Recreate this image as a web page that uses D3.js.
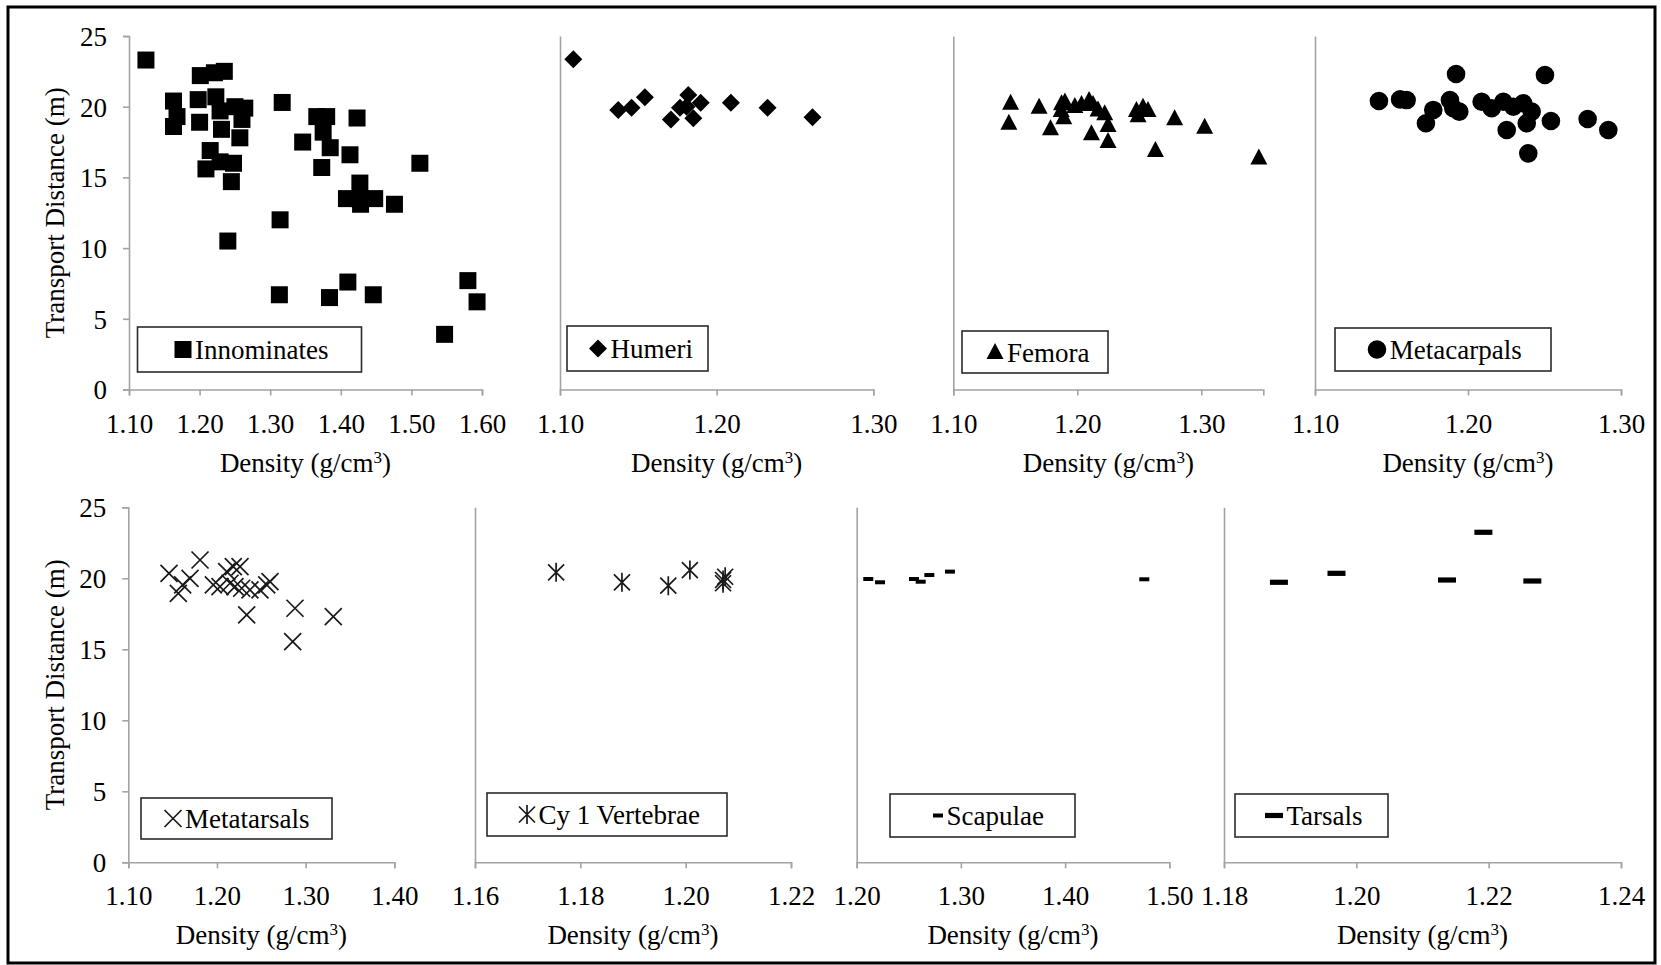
<!DOCTYPE html>
<html>
<head>
<meta charset="utf-8">
<script src="https://cdn.jsdelivr.net/npm/d3@7"></script>
<style>
  html, body { margin: 0; padding: 0; background: #fff; }
  svg { display: block; }
  text { font-family: "Liberation Serif", "Times New Roman", serif; fill: #000; }
</style>
</head>
<body>
<svg id="chart" width="1661" height="965"></svg>
<script>
// ---- Data: density (g/cm3) and transport distance (m) per bone element ----
const innominatesDensity = [1.124, 1.201, 1.221, 1.235, 1.163, 1.168, 1.163, 1.198, 1.200, 1.223, 1.229, 1.231,
  1.250, 1.264, 1.260, 1.257, 1.215, 1.209, 1.229, 1.248, 1.245, 1.240, 1.317, 1.314, 1.313, 1.346, 1.366,
  1.380, 1.375, 1.385, 1.373, 1.384, 1.413, 1.423, 1.427, 1.408, 1.426, 1.428, 1.448, 1.476, 1.410, 1.446,
  1.512, 1.547, 1.580, 1.593];
const innominatesDistance = [23.3, 22.2, 22.4, 22.5, 20.4, 19.3, 18.6, 20.5, 18.9, 20.7, 19.7, 18.4,
  20.0, 19.9, 19.1, 17.8, 16.9, 15.6, 16.1, 16.0, 14.7, 10.5, 20.3, 12.0, 6.7, 17.5, 19.3,
  19.3, 18.2, 17.1, 15.7, 6.5, 16.6, 19.2, 14.6, 13.5, 13.5, 13.1, 13.5, 13.1, 7.6, 6.7,
  16.0, 3.9, 7.7, 6.2];

const humeriDensity = [1.1085, 1.1372, 1.1457, 1.1542, 1.1708, 1.1766, 1.1819, 1.1808, 1.1851, 1.1898, 1.2091, 1.2325, 1.2612];
const humeriDistance = [23.35, 19.77, 19.93, 20.66, 19.1, 19.93, 20.83, 20.0, 19.18, 20.28, 20.28, 19.93, 19.25];

const femoraDensity = [1.1462, 1.1448, 1.1692, 1.1784, 1.1873, 1.1891, 1.190, 1.187, 1.198, 1.2034, 1.2095, 1.2127,
  1.2167, 1.2221, 1.2114, 1.2248, 1.2248, 1.2477, 1.253, 1.257, 1.249, 1.2785, 1.263, 1.3027, 1.3464];
const femoraDistance = [20.28, 18.87, 20.0, 18.47, 20.24, 19.25, 20.36, 19.77, 20.05, 20.19, 20.47, 20.19,
  19.8, 19.53, 18.12, 18.7, 17.57, 19.77, 20.0, 19.77, 19.4, 19.18, 16.94, 18.59, 16.4];

const metacarpalsDensity = [1.1418, 1.1556, 1.1599, 1.1773, 1.1725, 1.1882, 1.1922, 1.1904, 1.1943, 1.2089, 1.2155,
  1.2231, 1.2296, 1.2361, 1.2416, 1.2253, 1.2384, 1.2394, 1.2503, 1.2542, 1.2782, 1.2917];
const metacarpalsDistance = [20.4, 20.52, 20.47, 19.77, 18.83, 20.47, 22.31, 19.89, 19.65, 20.35, 19.89,
  20.35, 20.0, 20.24, 19.65, 18.35, 18.83, 16.7, 22.24, 18.99, 19.13, 18.35];

const metatarsalsDensity = [1.1459, 1.1809, 1.1696, 1.1613, 1.1564, 1.1959, 1.2034, 1.211, 1.2184, 1.226, 1.2147,
  1.2203, 1.2279, 1.2372, 1.2561, 1.2598, 1.2485, 1.2335, 1.288, 1.2854, 1.3312];
const metatarsalsDistance = [20.35, 21.29, 20.0, 19.53, 18.94, 19.53, 19.41, 20.47, 20.82, 20.82, 19.65,
  19.41, 19.3, 19.18, 19.53, 19.76, 19.18, 17.42, 17.89, 15.54, 17.3];

const vertebraeDensity = [1.1754, 1.1879, 1.1967, 1.2008, 1.2071, 1.2075, 1.2071];
const vertebraeDistance = [20.42, 19.72, 19.48, 20.58, 19.88, 20.11, 19.65];

const scapulaeDensity = [1.2111, 1.2224, 1.255, 1.2614, 1.2697, 1.2895, 1.476];
const scapulaeDistance = [19.95, 19.72, 19.95, 19.76, 20.23, 20.47, 19.93];

const tarsalsDensity = [1.1883, 1.197, 1.2137, 1.2192, 1.2266];
const tarsalsDistance = [19.72, 20.35, 19.88, 23.24, 19.81];

// ---- Tick values ----
const distanceTicks = [0, 5, 10, 15, 20, 25];
const innominatesTicks = [1.10, 1.20, 1.30, 1.40, 1.50, 1.60];
const humeriTicks = [1.10, 1.20, 1.30];
const femoraTicks = [1.10, 1.20, 1.30];
const metacarpalsTicks = [1.10, 1.20, 1.30];
const metatarsalsTicks = [1.10, 1.20, 1.30, 1.40];
const vertebraeTicks = [1.16, 1.18, 1.20, 1.22];
const scapulaeTicks = [1.20, 1.30, 1.40, 1.50];
const tarsalsTicks = [1.18, 1.20, 1.22, 1.24];

// ---- Marker shapes (path strings centred at 0,0) ----
const shapes = {
  square: { d: "M-8.5,-8.5H8.5V8.5H-8.5Z", fill: true },
  diamond: { d: "M0,-9L9,0L0,9L-9,0Z", fill: true },
  triangle: { d: "M0,-9L8.5,7L-8.5,7Z", fill: true },
  circle: { d: "M9.3,0A9.3,9.3 0 1,1 -9.3,0A9.3,9.3 0 1,1 9.3,0Z", fill: true },
  cross: { d: "M-8.5,-8.5L8.5,8.5M-8.5,8.5L8.5,-8.5", fill: false },
  star: { d: "M-8,-8L8,8M-8,8L8,-8M0,-9.5V9.5", fill: false },
  dashShort: { d: "M-5,-2H5V2H-5Z", fill: true },
  dashLong: { d: "M-9,-2.6H9V2.6H-9Z", fill: true }
};

// ---- Panel definitions ----
const rows = [
  { yTop: 36, yBottom: 389.5 },
  { yTop: 507.3, yBottom: 862.3 }
];

const panels = [
  { name: "Innominates", row: 0, x0: 129, x1: 482, domain: [1.10, 1.60], ticks: innominatesTicks,
    density: innominatesDensity, distance: innominatesDistance, shape: "square", yLabels: true,
    legend: { x: 137.5, y: 327, w: 224, h: 45, mx: 183 } },
  { name: "Humeri", row: 0, x0: 560, x1: 873.3, domain: [1.10, 1.30], ticks: humeriTicks,
    density: humeriDensity, distance: humeriDistance, shape: "diamond", yLabels: false,
    legend: { x: 567, y: 326, w: 141, h: 45, mx: 598 } },
  { name: "Femora", row: 0, x0: 953.3, x1: 1263.3, domain: [1.10, 1.35], ticks: femoraTicks,
    density: femoraDensity, distance: femoraDistance, shape: "triangle", yLabels: false,
    legend: { x: 962, y: 331, w: 146, h: 42, mx: 995 } },
  { name: "Metacarpals", row: 0, x0: 1315, x1: 1621, domain: [1.10, 1.30], ticks: metacarpalsTicks,
    density: metacarpalsDensity, distance: metacarpalsDistance, shape: "circle", yLabels: false,
    legend: { x: 1335, y: 328, w: 216, h: 43, mx: 1377 } },
  { name: "Metatarsals", row: 1, x0: 128.3, x1: 394.3, domain: [1.10, 1.40], ticks: metatarsalsTicks,
    density: metatarsalsDensity, distance: metatarsalsDistance, shape: "cross", yLabels: true,
    legend: { x: 141, y: 798, w: 191, h: 41, mx: 173 } },
  { name: "Cy 1 Vertebrae", row: 1, x0: 475, x1: 791, domain: [1.16, 1.22], ticks: vertebraeTicks,
    density: vertebraeDensity, distance: vertebraeDistance, shape: "star", yLabels: false,
    legend: { x: 487, y: 793, w: 240, h: 43, mx: 527 } },
  { name: "Scapulae", row: 1, x0: 856.7, x1: 1169.3, domain: [1.20, 1.50], ticks: scapulaeTicks,
    density: scapulaeDensity, distance: scapulaeDistance, shape: "dashShort", yLabels: false,
    legend: { x: 890, y: 794, w: 185, h: 43, mx: 938 } },
  { name: "Tarsals", row: 1, x0: 1224, x1: 1621, domain: [1.18, 1.24], ticks: tarsalsTicks,
    density: tarsalsDensity, distance: tarsalsDistance, shape: "dashLong", yLabels: false,
    legend: { x: 1235, y: 794, w: 153, h: 43, mx: 1274 } }
];

const svg = d3.select("#chart");
const axisColor = "#a3a3a3";
const fontSize = 27;
const serif = '"Liberation Serif", "Times New Roman", serif';

// outer frame
svg.append("rect")
  .attr("x", 8).attr("y", 7).attr("width", 1647).attr("height", 956)
  .attr("fill", "none").attr("stroke", "#000").attr("stroke-width", 3);

function styleAxis(g) {
  g.attr("font-family", serif).attr("font-size", fontSize);
  g.select(".domain").attr("stroke", axisColor).attr("stroke-width", 1.6);
  g.selectAll(".tick line").attr("stroke", axisColor).attr("stroke-width", 1.6);
  g.selectAll(".tick text")
    .attr("fill", "#000")
    .style("font-family", serif)
    .style("font-size", fontSize + "px");
}

function drawMarker(sel, shape) {
  const s = shapes[shape];
  sel.append("path")
    .attr("d", s.d)
    .attr("fill", s.fill ? "#000" : "none")
    .attr("stroke", s.fill ? "none" : "#1a1a1a")
    .attr("stroke-width", s.fill ? 0 : 1.7);
}

panels.forEach(p => {
  const r = rows[p.row];
  const x = d3.scaleLinear().domain(p.domain).range([p.x0, p.x1]);
  const y = d3.scaleLinear().domain([0, 25]).range([r.yBottom, r.yTop]);
  const g = svg.append("g");

  // y axis
  const yAxis = d3.axisLeft(y).tickValues(distanceTicks).tickSizeOuter(0)
    .tickSize(p.yLabels ? 6 : 0)
    .tickFormat(p.yLabels ? d3.format("d") : () => "");
  const gy = g.append("g").attr("transform", `translate(${p.x0},0)`).call(yAxis);
  styleAxis(gy);
  gy.selectAll(".tick text").attr("x", -22).attr("dy", "0.35em");

  // x axis
  const xAxis = d3.axisBottom(x).tickValues(p.ticks).tickSizeOuter(0).tickSize(6)
    .tickFormat(d3.format(".2f"));
  const gx = g.append("g").attr("transform", `translate(0,${r.yBottom})`).call(xAxis);
  styleAxis(gx);
  gx.selectAll(".tick text").attr("y", 43).attr("dy", null);

  // x axis title
  const xt = g.append("text")
    .attr("x", (p.x0 + p.x1) / 2).attr("y", r.yBottom + 82)
    .attr("text-anchor", "middle")
    .style("font-family", serif).style("font-size", fontSize + "px");
  xt.append("tspan").text("Density (g/cm");
  xt.append("tspan").text("3").attr("baseline-shift", "super").style("font-size", "17px");
  xt.append("tspan").text(")");

  // y axis title
  if (p.yLabels) {
    g.append("text")
      .attr("transform", `translate(64,${(r.yTop + r.yBottom) / 2}) rotate(-90)`)
      .attr("text-anchor", "middle")
      .style("font-family", serif).style("font-size", fontSize + "px")
      .text("Transport Distance (m)");
  }

  // points
  const pts = p.density.map((d, i) => ({ d, v: p.distance[i] }));
  g.append("g").selectAll("g").data(pts).join("g")
    .attr("transform", q => `translate(${x(q.d)},${y(q.v)})`)
    .each(function () { drawMarker(d3.select(this), p.shape); });

  // legend
  const L = p.legend;
  const lg = g.append("g");
  lg.append("rect").attr("x", L.x).attr("y", L.y).attr("width", L.w).attr("height", L.h)
    .attr("fill", "#fff").attr("stroke", "#2b2b2b").attr("stroke-width", 1.6);
  const cy = L.y + L.h / 2;
  const mk = lg.append("g").attr("transform", `translate(${L.mx},${cy})`);
  drawMarker(mk, p.shape);
  const markerHalf = { square: 8.5, diamond: 9, triangle: 8.5, circle: 9.3, cross: 8.5, star: 8, dashShort: 5, dashLong: 9 }[p.shape];
  lg.append("text").attr("x", L.mx + markerHalf + 3.5).attr("y", cy + 9.5)
    .style("font-family", serif).style("font-size", fontSize + "px")
    .text(p.name);
});
</script>
</body>
</html>
